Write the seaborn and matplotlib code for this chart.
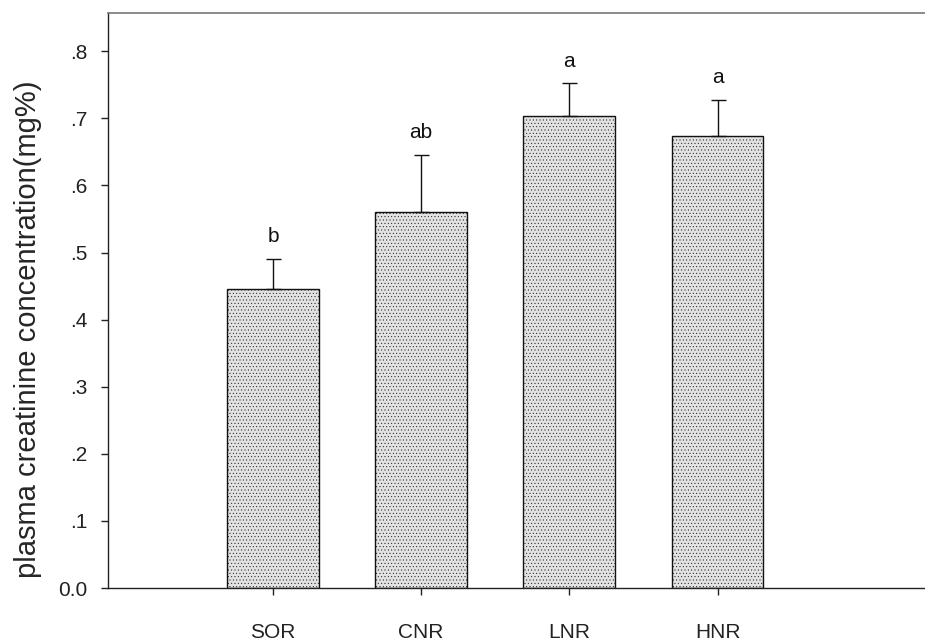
import matplotlib
matplotlib.use("Agg")
import matplotlib.pyplot as plt
import seaborn as sns
import pandas as pd
import numpy as np

groups = ["SOR", "CNR", "LNR", "HNR"]
means = [0.446, 0.561, 0.704, 0.673]
sem = [0.045, 0.085, 0.048, 0.055]
letters = ["b", "ab", "a", "a"]
yticks = [0.0, 0.1, 0.2, 0.3, 0.4, 0.5, 0.6, 0.7, 0.8]
yticklabels = ["0.0", ".1", ".2", ".3", ".4", ".5", ".6", ".7", ".8"]

sns.set_style("ticks")
plt.rcParams["font.family"] = ["Liberation Sans", "DejaVu Sans"]
plt.rcParams["hatch.linewidth"] = 0.3

df = pd.DataFrame({"group": groups, "mean": means})

fig = plt.figure(figsize=(9.25, 6.43), dpi=100)
ax = fig.add_axes([108 / 925, 55 / 643, 1 - 108 / 925, (588 - 13) / 643])

sns.barplot(data=df, x="group", y="mean", order=groups, color="#e2e2e2",
            width=0.62, edgecolor="#111111", linewidth=1.0, ax=ax, zorder=2)
for p in ax.patches:
    p.set_hatch(".....")

x = np.arange(len(groups))
ax.errorbar(x, means, yerr=[np.zeros(len(sem)), sem], fmt="none",
            ecolor="#111111", elinewidth=1.0, capsize=5.4, capthick=1.0, zorder=3)

for xi, m, e, lab in zip(x, means, sem, letters):
    ax.text(xi, m + e + 0.025, lab, ha="center", va="baseline",
            fontsize=15, color="#111111")

ax.set_xlim(-1.113, 4.40)
ax.set_ylim(0, 0.857)
ax.set_yticks(yticks)
ax.set_yticklabels(yticklabels)
ax.set_xlabel("")
ax.set_ylabel("plasma creatinine concentration(mg%)", fontsize=21)
ax.yaxis.set_label_coords(-0.081, 0.45)

ax.tick_params(axis="y", direction="out", length=5, width=1, pad=10,
               labelsize=15, colors="#222222")
ax.tick_params(axis="x", direction="out", length=5, width=1, pad=20,
               labelsize=15, colors="#222222")

for s in ["left", "bottom"]:
    ax.spines[s].set_color("#222222")
    ax.spines[s].set_linewidth(1.0)
ax.spines["top"].set_color("#777777")
ax.spines["top"].set_linewidth(1.2)
ax.spines["right"].set_visible(False)

fig.savefig("out.png", dpi=100)
